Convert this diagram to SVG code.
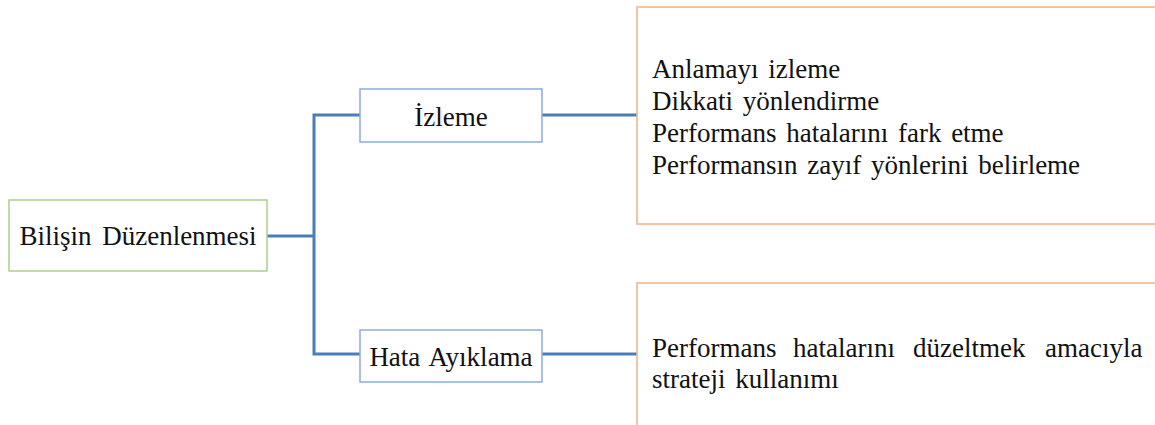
<svg xmlns="http://www.w3.org/2000/svg" width="1155" height="425" viewBox="0 0 1155 425">
  <style>
    .label { font-family: "Liberation Serif", "Times New Roman", serif; font-size: 27px; fill: #111; }
    .root { fill: #fff; stroke: #a9d18e; stroke-width: 1.5; }
    .branch { fill: #fff; stroke: #8eaadb; stroke-width: 1.5; }
    .detail { fill: #fff; stroke: #f4b183; stroke-width: 1.5; }
    .link { fill: none; stroke: #4a7ebb; stroke-width: 3; }
  </style>
  <rect width="1155" height="425" fill="#fff"/>

  <!-- connectors -->
  <g id="connectors">
    <path class="link" d="M267 236 H314"/>
    <path class="link" d="M360 115 H314 V354 H360"/>
    <path class="link" d="M542 115 H637"/>
    <path class="link" d="M542 354 H637"/>
  </g>

  <g id="node-root">
    <rect class="root" x="9" y="200" width="258" height="71"/>
    <text class="label" x="138" y="245" text-anchor="middle" word-spacing="4">Bilişin Düzenlenmesi</text>
  </g>

  <g id="node-izleme">
    <rect class="branch" x="360" y="89" width="182" height="53"/>
    <text class="label" x="451" y="126" text-anchor="middle">İzleme</text>
  </g>

  <g id="node-hata">
    <rect class="branch" x="360" y="330" width="182" height="52"/>
    <text class="label" x="451" y="366" text-anchor="middle" word-spacing="3">Hata Ayıklama</text>
  </g>

  <g id="node-izleme-detail">
    <rect class="detail" x="637" y="7" width="530" height="217"/>
    <text class="label" word-spacing="3">
      <tspan x="652" y="78">Anlamayı izleme</tspan>
      <tspan x="652" y="110">Dikkati yönlendirme</tspan>
      <tspan x="652" y="142">Performans hatalarını fark etme</tspan>
      <tspan x="652" y="174">Performansın zayıf yönlerini belirleme</tspan>
    </text>
  </g>

  <g id="node-hata-detail">
    <rect class="detail" x="637" y="283" width="530" height="160"/>
    <!-- justified first line: words placed individually -->
    <text class="label">
      <tspan x="652" y="357">Performans</tspan>
      <tspan x="793" y="357">hatalarını</tspan>
      <tspan x="913" y="357">düzeltmek</tspan>
      <tspan x="1045" y="357">amacıyla</tspan>
      <tspan x="652" y="388" word-spacing="3">strateji kullanımı</tspan>
    </text>
  </g>
</svg>
